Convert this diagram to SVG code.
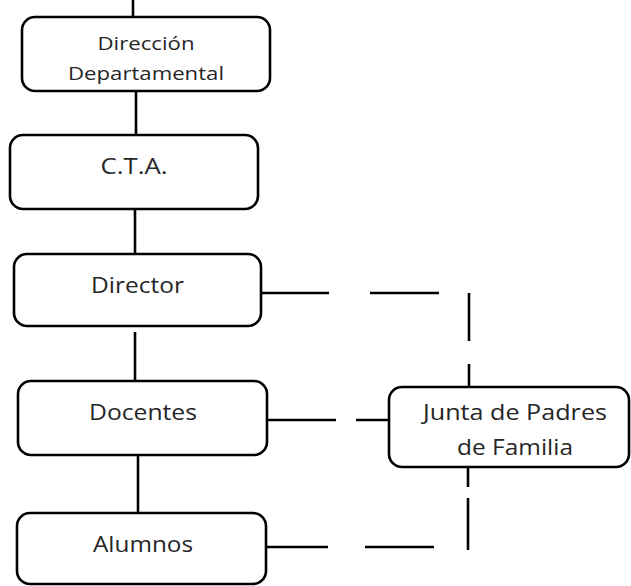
<svg xmlns="http://www.w3.org/2000/svg" width="631" height="586" viewBox="0 0 631 586">
<style>
.box{fill:#fff;stroke:#000;stroke-width:2.6}
.ln{stroke:#000;stroke-width:2.6;fill:none}
.t{font-family:"Open Sans","Liberation Sans",sans-serif;fill:#262626;text-anchor:middle}
.s{font-size:19px}
.b{font-size:21px}
</style>
<rect width="631" height="586" fill="#fff"/>
<g id="connectors">
<line class="ln" x1="133" y1="0" x2="133" y2="17"/>
<line class="ln" x1="136" y1="90" x2="136" y2="135"/>
<line class="ln" x1="135" y1="209" x2="135" y2="254"/>
<line class="ln" x1="135" y1="332" x2="135" y2="380"/>
<line class="ln" x1="138" y1="455" x2="138" y2="512"/>
<line class="ln" x1="261" y1="293" x2="329" y2="293"/>
<line class="ln" x1="370" y1="293" x2="439" y2="293"/>
<line class="ln" x1="469" y1="293" x2="469" y2="341"/>
<line class="ln" x1="469" y1="364" x2="469" y2="387"/>
<line class="ln" x1="267" y1="420" x2="336" y2="420"/>
<line class="ln" x1="356" y1="420" x2="389" y2="420"/>
<line class="ln" x1="468" y1="467" x2="468" y2="487"/>
<line class="ln" x1="468" y1="498" x2="468" y2="550"/>
<line class="ln" x1="266" y1="547" x2="328" y2="547"/>
<line class="ln" x1="365" y1="547" x2="434" y2="547"/>
</g>
<g id="n1">
<rect class="box" x="22" y="17" width="248" height="74" rx="13"/>
<text class="t s" x="146" y="50" textLength="97" lengthAdjust="spacingAndGlyphs">Dirección</text>
<text class="t s" x="146" y="80" textLength="156" lengthAdjust="spacingAndGlyphs">Departamental</text>
</g>
<g id="n2">
<rect class="box" x="10" y="135" width="248" height="74" rx="13"/>
<text class="t b" x="134" y="174" textLength="67" lengthAdjust="spacingAndGlyphs">C.T.A.</text>
</g>
<g id="n3">
<rect class="box" x="14" y="254" width="247" height="72" rx="13"/>
<text class="t b" x="137.5" y="293" textLength="93" lengthAdjust="spacingAndGlyphs">Director</text>
</g>
<g id="n4">
<rect class="box" x="18" y="381" width="249" height="74" rx="13"/>
<text class="t b" x="143" y="420" textLength="108" lengthAdjust="spacingAndGlyphs">Docentes</text>
</g>
<g id="n5">
<rect class="box" x="17" y="513" width="249" height="71" rx="13"/>
<text class="t b" x="143" y="552" textLength="100" lengthAdjust="spacingAndGlyphs">Alumnos</text>
</g>
<g id="n6">
<rect class="box" x="389" y="387" width="240" height="80" rx="13"/>
<text class="t b" x="515" y="420" textLength="184" lengthAdjust="spacingAndGlyphs">Junta de Padres</text>
<text class="t b" x="515" y="455" textLength="116" lengthAdjust="spacingAndGlyphs">de Familia</text>
</g>
</svg>
